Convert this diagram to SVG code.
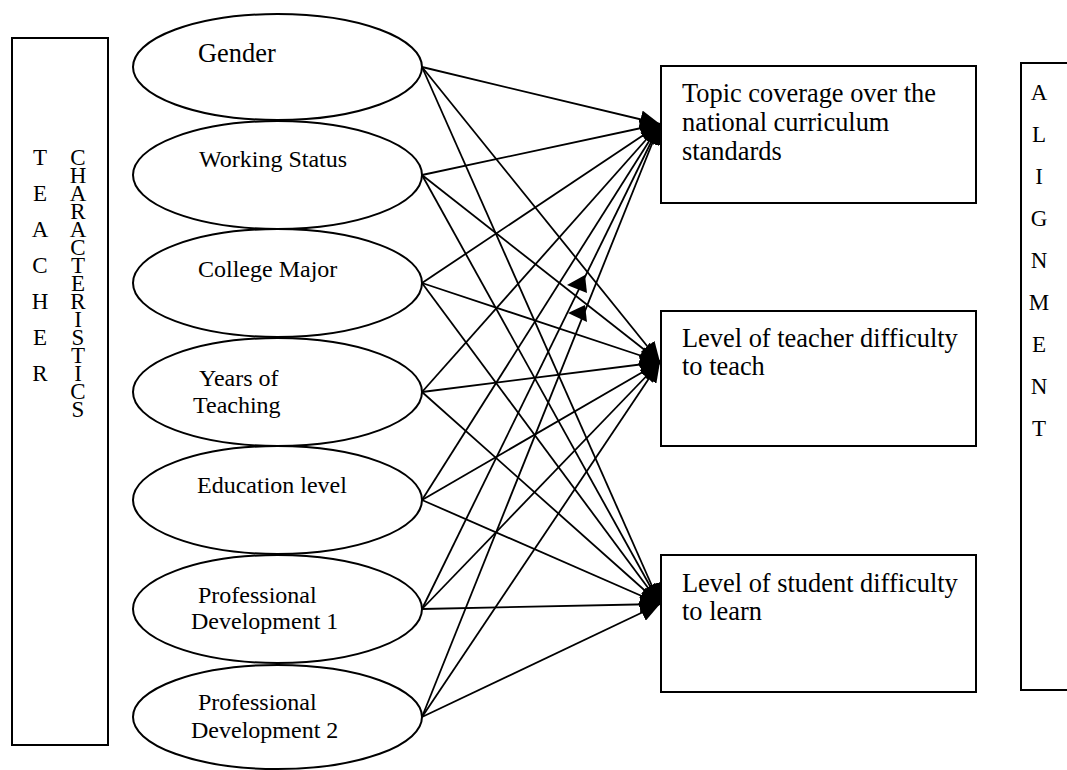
<svg xmlns="http://www.w3.org/2000/svg" width="1067" height="770" viewBox="0 0 1067 770">
<style>
.box{fill:#fff;stroke:#000;stroke-width:2}
.ell{fill:#fff;stroke:#000;stroke-width:2}
.t{font-family:"Liberation Serif","Times New Roman",serif;fill:#000}
.lbl{font-size:24px}
.big{font-size:26.4px}
.bt{font-size:26.4px}
.v{font-size:23px;text-anchor:middle}
.c line{stroke:#000;stroke-width:1.8;marker-end:url(#ah)}
</style>
<defs>
<marker id="ah" markerUnits="userSpaceOnUse" markerWidth="22" markerHeight="18" refX="20" refY="9" orient="auto">
<path d="M0,0 L20,9 L0,18 Z" fill="#000"/>
</marker>
</defs>
<g id="teacher-characteristics">
<rect class="box" x="12" y="38" width="96" height="707"/>
<text class="t v"><tspan x="40" y="165">T</tspan><tspan x="40" y="201">E</tspan><tspan x="40" y="237">A</tspan><tspan x="40" y="273">C</tspan><tspan x="40" y="309">H</tspan><tspan x="40" y="345">E</tspan><tspan x="40" y="381">R</tspan></text>
<text class="t v"><tspan x="78" y="165">C</tspan><tspan x="78" y="183">H</tspan><tspan x="78" y="201">A</tspan><tspan x="78" y="219">R</tspan><tspan x="78" y="237">A</tspan><tspan x="78" y="255">C</tspan><tspan x="78" y="273">T</tspan><tspan x="78" y="291">E</tspan><tspan x="78" y="309">R</tspan><tspan x="78" y="327">I</tspan><tspan x="78" y="345">S</tspan><tspan x="78" y="363">T</tspan><tspan x="78" y="381">I</tspan><tspan x="78" y="399">C</tspan><tspan x="78" y="417">S</tspan></text>
</g>
<g id="alignment">
<rect class="box" x="1021" y="63" width="60" height="627"/>
<text class="t v"><tspan x="1039" y="100">A</tspan><tspan x="1039" y="142">L</tspan><tspan x="1039" y="184">I</tspan><tspan x="1039" y="226">G</tspan><tspan x="1039" y="268">N</tspan><tspan x="1039" y="310">M</tspan><tspan x="1039" y="352">E</tspan><tspan x="1039" y="394">N</tspan><tspan x="1039" y="436">T</tspan></text>
</g>
<g id="gender"><ellipse class="ell" cx="277.5" cy="67" rx="144.5" ry="53"/><text class="t big" x="198" y="62">Gender</text></g>
<g id="working-status"><ellipse class="ell" cx="277.5" cy="175" rx="144.5" ry="54"/><text class="t lbl" x="199" y="167">Working Status</text></g>
<g id="college-major"><ellipse class="ell" cx="277.5" cy="283" rx="144.5" ry="54"/><text class="t lbl" x="198" y="277">College Major</text></g>
<g id="years-of-teaching"><ellipse class="ell" cx="277.5" cy="392" rx="144.5" ry="54"/><text class="t lbl"><tspan x="199" y="386">Years of</tspan><tspan x="193" y="413">Teaching</tspan></text></g>
<g id="education-level"><ellipse class="ell" cx="277.5" cy="500" rx="144.5" ry="54"/><text class="t lbl" x="197" y="493">Education level</text></g>
<g id="pd1"><ellipse class="ell" cx="277.5" cy="609" rx="144.5" ry="54"/><text class="t lbl"><tspan x="198" y="603">Professional</tspan><tspan x="191" y="629">Development 1</tspan></text></g>
<g id="pd2"><ellipse class="ell" cx="277.5" cy="717" rx="144.5" ry="52"/><text class="t lbl"><tspan x="198" y="710">Professional</tspan><tspan x="191" y="738">Development 2</tspan></text></g>
<g id="topic-coverage"><rect class="box" x="661" y="66" width="315" height="137"/><text class="t bt"><tspan x="682" y="102">Topic coverage over the</tspan><tspan x="682" y="131">national curriculum</tspan><tspan x="682" y="160">standards</tspan></text></g>
<g id="teacher-difficulty"><rect class="box" x="661" y="311" width="315" height="135"/><text class="t bt"><tspan x="682" y="347">Level of teacher difficulty</tspan><tspan x="682" y="375">to teach</tspan></text></g>
<g id="student-difficulty"><rect class="box" x="661" y="555" width="315" height="137"/><text class="t bt"><tspan x="682" y="592">Level of student difficulty</tspan><tspan x="682" y="620">to learn</tspan></text></g>
<g id="connectors" class="c">
<line x1="422" y1="67" x2="660" y2="124"/>
<line x1="422" y1="67" x2="660" y2="362"/>
<line x1="422" y1="67" x2="660" y2="604"/>
<line x1="422" y1="175" x2="660" y2="124"/>
<line x1="422" y1="175" x2="660" y2="362"/>
<line x1="422" y1="175" x2="660" y2="604"/>
<line x1="422" y1="283" x2="660" y2="124"/>
<line x1="422" y1="283" x2="660" y2="362"/>
<line x1="422" y1="283" x2="660" y2="604"/>
<line x1="422" y1="392" x2="660" y2="124"/>
<line x1="422" y1="392" x2="660" y2="362"/>
<line x1="422" y1="392" x2="660" y2="604"/>
<line x1="422" y1="500" x2="660" y2="124"/>
<line x1="422" y1="500" x2="660" y2="362"/>
<line x1="422" y1="500" x2="660" y2="604"/>
<line x1="422" y1="609" x2="660" y2="124"/>
<line x1="422" y1="609" x2="660" y2="362"/>
<line x1="422" y1="609" x2="660" y2="604"/>
<line x1="422" y1="717" x2="660" y2="124"/>
<line x1="422" y1="717" x2="660" y2="362"/>
<line x1="422" y1="717" x2="660" y2="604"/>
<polygon points="567,285 585,275 587,293" fill="#000"/>
<polygon points="568,313 585,305 587,322" fill="#000"/>
</g>
</svg>
